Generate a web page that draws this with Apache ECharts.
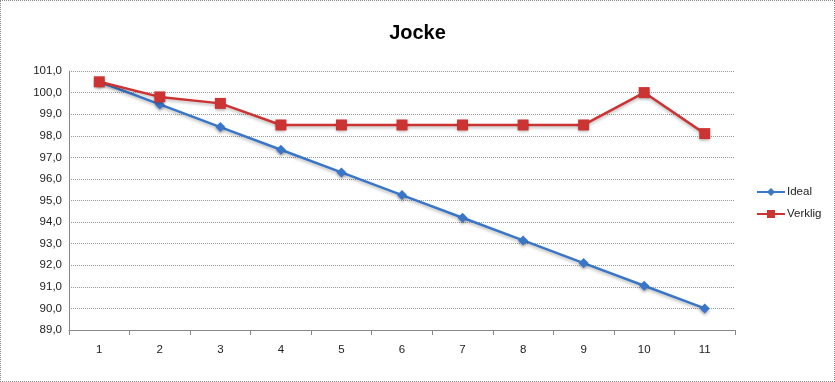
<!DOCTYPE html>
<html><head><meta charset="utf-8">
<script src="https://cdn.jsdelivr.net/npm/echarts@6/dist/echarts.min.js"></script>
<style>
html,body{margin:0;padding:0;background:#fff;}
#c{width:835px;height:382px;box-sizing:border-box;border:1px dotted #888;}
</style></head><body>
<div id="c"></div>
<script>
const categories = ['1','2','3','4','5','6','7','8','9','10','11'];
const ideal = [100.5, 99.45, 98.4, 97.35, 96.3, 95.25, 94.2, 93.15, 92.1, 91.05, 90.0];
const verklig = [100.5, 99.8, 99.5, 98.5, 98.5, 98.5, 98.5, 98.5, 98.5, 100.0, 98.1];
const seriesNames = ['Ideal', 'Verklig'];

const chart = echarts.init(document.getElementById('c'));
const fontFam = '"Liberation Sans", "DejaVu Sans", sans-serif';
chart.setOption({
  animation: false,
  title: {
    text: 'Jocke', left: 'center', top: 17,
    textStyle: {fontFamily: fontFam, fontSize: 20, fontWeight: 'bold', color: '#000'}
  },
  legend: {
    orient: 'vertical', left: 750, top: 180, itemGap: 10,
    itemWidth: 28, itemHeight: 10,
    textStyle: {fontFamily: fontFam, fontSize: 11.5, color: '#222', padding: [0,0,0,-3]},
    data: seriesNames
  },
  grid: {left: 68, right: 99, top: 70, bottom: 51},
  xAxis: {
    type: 'category', data: categories, boundaryGap: true,
    axisLine: {lineStyle: {color: '#888'}},
    axisTick: {show: true, length: 5, lineStyle: {color: '#888'}},
    axisLabel: {fontFamily: fontFam, fontSize: 11.5, color: '#222', margin: 14}
  },
  yAxis: {
    type: 'value', min: 89, max: 101, interval: 1,
    axisLine: {show: true, lineStyle: {color: '#888'}},
    axisTick: {show: false},
    splitLine: {lineStyle: {color: '#999', type: 'dotted'}},
    axisLabel: {fontFamily: fontFam, fontSize: 11.5, color: '#222', margin: 7,
      formatter: v => v.toFixed(1).replace('.', ',')}
  },
  series: [
    {
      name: 'Ideal', type: 'line', data: ideal,
      symbol: 'diamond', symbolSize: 10,
      lineStyle: {width: 2.5, color: '#3A76C8', shadowColor: 'rgba(0,0,0,0.25)', shadowBlur: 3, shadowOffsetY: 2},
      itemStyle: {color: '#3A76C8', shadowColor: 'rgba(0,0,0,0.3)', shadowBlur: 3, shadowOffsetY: 2},
      z: 2
    },
    {
      name: 'Verklig', type: 'line', data: verklig,
      symbol: 'rect', symbolSize: 11,
      lineStyle: {width: 2.5, color: '#CC3333', shadowColor: 'rgba(0,0,0,0.25)', shadowBlur: 3, shadowOffsetY: 2},
      itemStyle: {color: '#CC3333', shadowColor: 'rgba(0,0,0,0.3)', shadowBlur: 3, shadowOffsetY: 2},
      z: 3
    }
  ]
});
</script>
</body></html>
